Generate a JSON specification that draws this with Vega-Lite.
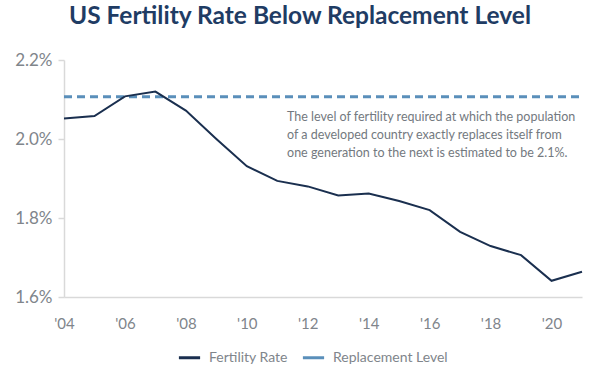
{
  "$schema": "https://vega.github.io/schema/vega-lite/v6.json",
  "width": 518,
  "height": 237,
  "autosize": {"type": "none"},
  "padding": {"left": 64, "top": 60, "right": 25, "bottom": 75},
  "background": "white",
  "config": {
    "font": "Lato",
    "view": {"stroke": null},
    "text": {"lineBreak": "\n"}
  },
  "title": {
    "text": "US Fertility Rate Below Replacement Level",
    "font": "Lato",
    "fontSize": 24.5,
    "fontWeight": "bold",
    "color": "#1f3c64",
    "anchor": "middle",
    "baseline": "bottom",
    "offset": -2,
    "dx": -23
  },
  "datasets": {
    "fert": [
      {"year": 2004, "value": 2.052, "series": "Fertility Rate"},
      {"year": 2005, "value": 2.058, "series": "Fertility Rate"},
      {"year": 2006, "value": 2.108, "series": "Fertility Rate"},
      {"year": 2007, "value": 2.12, "series": "Fertility Rate"},
      {"year": 2008, "value": 2.072, "series": "Fertility Rate"},
      {"year": 2009, "value": 2.0, "series": "Fertility Rate"},
      {"year": 2010, "value": 1.931, "series": "Fertility Rate"},
      {"year": 2011, "value": 1.894, "series": "Fertility Rate"},
      {"year": 2012, "value": 1.88, "series": "Fertility Rate"},
      {"year": 2013, "value": 1.857, "series": "Fertility Rate"},
      {"year": 2014, "value": 1.862, "series": "Fertility Rate"},
      {"year": 2015, "value": 1.843, "series": "Fertility Rate"},
      {"year": 2016, "value": 1.82, "series": "Fertility Rate"},
      {"year": 2017, "value": 1.765, "series": "Fertility Rate"},
      {"year": 2018, "value": 1.729, "series": "Fertility Rate"},
      {"year": 2019, "value": 1.706, "series": "Fertility Rate"},
      {"year": 2020, "value": 1.641, "series": "Fertility Rate"},
      {"year": 2021, "value": 1.664, "series": "Fertility Rate"}
    ],
    "repl": [
      {"year": 2004, "value": 2.107, "series": "Replacement Level"},
      {"year": 2021, "value": 2.107, "series": "Replacement Level"}
    ],
    "note": [
      {"year": 2011.32, "value": 2.072, "text": "The level of fertility required at which the population\nof a developed country exactly replaces itself from\none generation to the next is estimated to be 2.1%."}
    ]
  },
  "layer": [
    {
      "data": {"name": "repl"},
      "mark": {"type": "line", "strokeWidth": 3, "strokeDash": [8, 5]},
      "encoding": {
        "x": {"field": "year", "type": "quantitative"},
        "y": {"field": "value", "type": "quantitative"},
        "color": {"field": "series", "type": "nominal"}
      }
    },
    {
      "data": {"name": "fert"},
      "mark": {"type": "line", "strokeWidth": 2},
      "encoding": {
        "x": {
          "field": "year", "type": "quantitative",
          "scale": {"domain": [2004, 2021], "nice": false, "zero": false},
          "axis": {
            "title": null,
            "values": [2004, 2006, 2008, 2010, 2012, 2014, 2016, 2018, 2020],
            "labelExpr": "\"'\" + slice(toString(datum.value), 2)",
            "grid": false, "ticks": false, "tickSize": 0,
            "domain": true, "domainColor": "#d9d9d9", "domainWidth": 1.5,
            "labelFontSize": 15, "labelColor": "#80858b", "labelPadding": 19,
            "labelFlush": false
          }
        },
        "y": {
          "field": "value", "type": "quantitative",
          "scale": {"domain": [1.6, 2.2], "nice": false, "zero": false},
          "axis": {
            "title": null,
            "values": [1.6, 1.8, 2.0, 2.2],
            "labelExpr": "format(datum.value, '.1f') + '%'",
            "grid": false, "ticks": true, "tickSize": 6, "tickColor": "#d9d9d9", "tickWidth": 1.5,
            "domain": true, "domainColor": "#d9d9d9", "domainWidth": 1.5,
            "labelFontSize": 17, "labelColor": "#80858b", "labelPadding": 6
          }
        },
        "color": {
          "field": "series", "type": "nominal",
          "scale": {"domain": ["Fertility Rate", "Replacement Level"], "range": ["#1a2f4f", "#5a8fba"]},
          "legend": {
            "title": null,
            "orient": "none",
            "direction": "horizontal",
            "legendX": 113,
            "legendY": 285,
            "symbolType": "stroke",
            "symbolStrokeWidth": 3,
            "symbolSize": 450,
            "labelFontSize": 14,
            "labelColor": "#80858b",
            "columnPadding": 8,
            "labelOffset": 7
          }
        }
      }
    },
    {
      "data": {"name": "note"},
      "mark": {"type": "text", "align": "left", "baseline": "top", "fontSize": 12.5, "lineHeight": 18, "color": "#737980"},
      "encoding": {
        "x": {"field": "year", "type": "quantitative"},
        "y": {"field": "value", "type": "quantitative"},
        "text": {"field": "text"}
      }
    }
  ]
}
